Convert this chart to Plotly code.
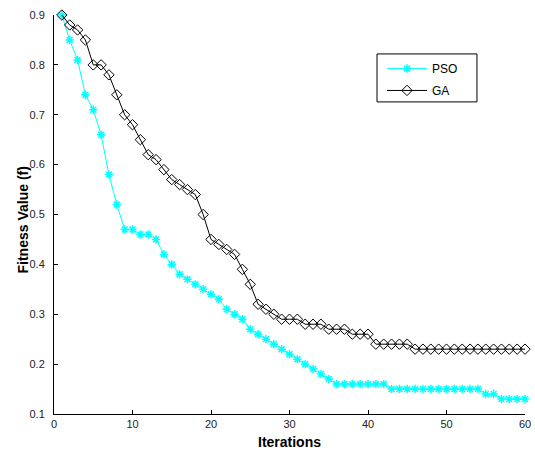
import plotly.graph_objects as go

iterations = list(range(1, 61))

pso = [0.90, 0.85, 0.81, 0.74, 0.71, 0.66, 0.58, 0.52, 0.47, 0.47,
       0.46, 0.46, 0.45, 0.42, 0.40, 0.38, 0.37, 0.36, 0.35, 0.34,
       0.33, 0.31, 0.30, 0.29, 0.27, 0.26, 0.25, 0.24, 0.23, 0.22,
       0.21, 0.20, 0.19, 0.18, 0.17, 0.16, 0.16, 0.16, 0.16, 0.16,
       0.16, 0.16, 0.15, 0.15, 0.15, 0.15, 0.15, 0.15, 0.15, 0.15,
       0.15, 0.15, 0.15, 0.15, 0.14, 0.14, 0.13, 0.13, 0.13, 0.13]

ga = [0.90, 0.88, 0.87, 0.85, 0.80, 0.80, 0.78, 0.74, 0.70, 0.68,
      0.65, 0.62, 0.61, 0.59, 0.57, 0.56, 0.55, 0.54, 0.50, 0.45,
      0.44, 0.43, 0.42, 0.39, 0.36, 0.32, 0.31, 0.30, 0.29, 0.29,
      0.29, 0.28, 0.28, 0.28, 0.27, 0.27, 0.27, 0.26, 0.26, 0.26,
      0.24, 0.24, 0.24, 0.24, 0.24, 0.23, 0.23, 0.23, 0.23, 0.23,
      0.23, 0.23, 0.23, 0.23, 0.23, 0.23, 0.23, 0.23, 0.23, 0.23]

x_ticks = [0, 10, 20, 30, 40, 50, 60]
y_ticks = [0.1, 0.2, 0.3, 0.4, 0.5, 0.6, 0.7, 0.8, 0.9]

fig = go.Figure()
fig.add_trace(go.Scatter(
    x=iterations, y=pso, name="PSO", mode="lines+markers",
    line=dict(color="#00FFFF", width=1),
    marker=dict(symbol="asterisk-open", size=7, color="#00FFFF",
                line=dict(color="#00FFFF", width=1.5)),
    cliponaxis=False, legendgroup="a"))
fig.add_trace(go.Scatter(
    x=iterations, y=ga, name="GA", mode="lines+markers",
    line=dict(color="#000000", width=1),
    marker=dict(symbol="diamond-open", size=8, color="#000000",
                line=dict(color="#000000", width=1)),
    cliponaxis=False, legendgroup="b"))

fig.update_layout(
    width=535, height=452, autosize=False,
    margin=dict(l=54, r=10, t=15, b=37.5, autoexpand=False),
    paper_bgcolor="white", plot_bgcolor="white",
    font=dict(family="Liberation Sans, Arial, sans-serif", size=11, color="#222"),
    showlegend=True,
    legend=dict(x=0.6964, y=0.9024, xanchor="left", yanchor="top",
                borderwidth=0, bgcolor="rgba(0,0,0,0)", itemwidth=40,
                font=dict(size=12, color="#000"), tracegroupgap=3,
                traceorder="grouped"),
    shapes=[dict(type="rect", xref="paper", yref="paper",
                 x0=0.6858, x1=0.898, y0=0.7822, y1=0.9024,
                 line=dict(color="black", width=1), fillcolor="white",
                 layer="below")],
    xaxis=dict(range=[0, 60], tickvals=x_ticks, ticks="inside", ticklen=4,
               showline=True, linecolor="black", linewidth=1, showgrid=False,
               zeroline=False, tickcolor="black", automargin=False),
    yaxis=dict(range=[0.1, 0.9], tickvals=y_ticks, tickformat=".1f",
               ticks="inside", ticklen=4, ticklabelstandoff=6,
               showline=True, linecolor="black", linewidth=1, showgrid=False,
               zeroline=False, tickcolor="black", automargin=False),
    annotations=[
        dict(text="<b>Iterations</b>", xref="paper", yref="paper", x=0.5, y=0,
             xanchor="center", yanchor="middle", yshift=-28, showarrow=False,
             font=dict(size=14, color="#000")),
        dict(text="<b>Fitness Value (f)</b>", xref="paper", yref="paper", x=0, y=0.485,
             xanchor="center", yanchor="middle", xshift=-31, textangle=-90,
             showarrow=False, font=dict(size=14, color="#000")),
    ],
)

fig.write_html("out.html", config={"displayModeBar": False},
               post_script="document.body.style.margin='0';")
